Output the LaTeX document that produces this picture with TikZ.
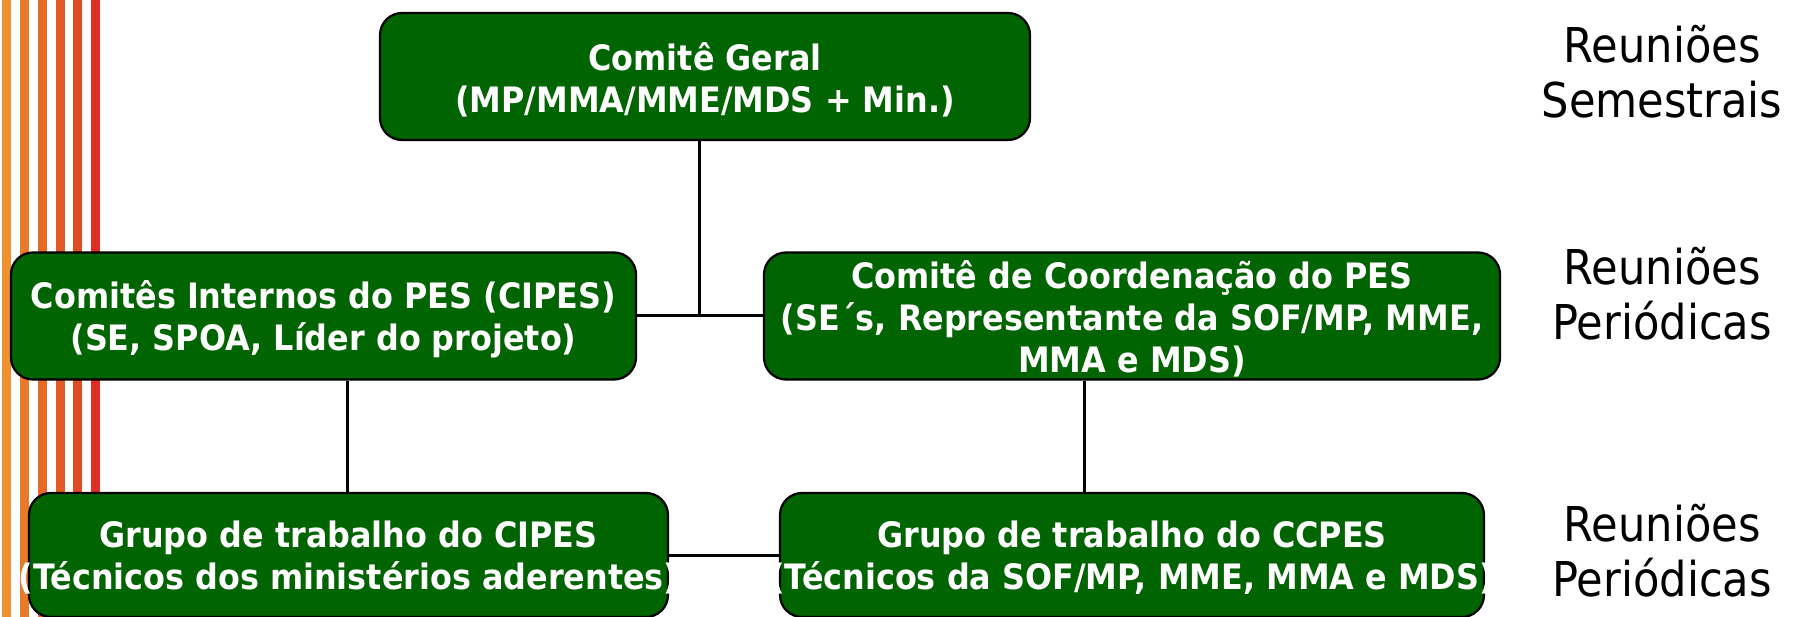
\documentclass[tikz,border=0pt]{standalone}
\usepackage{fontspec}
\setmainfont{DejaVu Sans}
\newfontfamily\boxfont{DejaVu Sans}[FakeStretch=0.91]
\newfontfamily\labelfont{DejaVu Sans}[FakeStretch=0.9]
\definecolor{boxgreen}{RGB}{0,100,0}
\definecolor{sA}{RGB}{236,145,45}
\definecolor{sB}{RGB}{232,122,42}
\definecolor{sC}{RGB}{229,106,40}
\definecolor{sD}{RGB}{226,90,38}
\definecolor{sE}{RGB}{224,75,37}
\definecolor{sF}{RGB}{220,48,38}
\newcommand{\oneline}[1]{\makebox[0pt][c]{#1}}
\begin{document}
\begin{tikzpicture}[x=1pt,y=-1pt,
  box/.style={draw=black, line width=2.2pt, fill=boxgreen, rounded corners=22pt,
    inner sep=0pt},
  boxtext/.style={text=white, font=\boxfont\fontsize{35}{42}\selectfont\bfseries,
    align=center, inner sep=0pt, yshift=-3pt},
  conn/.style={draw=black, line width=3pt},
  meeting/.style={font=\labelfont\fontsize{48}{55}\selectfont, align=center, inner sep=0pt}]
\useasboundingbox (0,0) rectangle (1800,617);
\fill[white] (0,0) rectangle (1800,617);
% stripes
\fill[sA] (2,0) rectangle (11,617);
\fill[sB] (20,0) rectangle (29,617);
\fill[sC] (38,0) rectangle (47,617);
\fill[sD] (56,0) rectangle (65,617);
\fill[sE] (73,0) rectangle (82,617);
\fill[sF] (91,0) rectangle (100,617);
% boxes
\node[box, minimum width=650pt, minimum height=127pt] (geral) at (705,76.5) {};
\node[boxtext] (geralT) at (geral.center)
  {\oneline{Comitê Geral}\\\oneline{(MP/MMA/MME/MDS + Min.)}};
\node[box, minimum width=625pt, minimum height=127pt] (cipes) at (323.5,316) {};
\node[boxtext] (cipesT) at (cipes.center)
  {\oneline{Comitês Internos do PES (CIPES)}\\\oneline{(SE, SPOA, Líder do projeto)}};
\node[box, minimum width=736pt, minimum height=127pt] (coord) at (1132,316) {};
\node[boxtext] (coordT) at (coord.center)
  {\oneline{Comitê de Coordenação do PES}\\\oneline{(SE´s, Representante da SOF/MP, MME,}\\\oneline{MMA e MDS)}};
\node[box, minimum width=639pt, minimum height=124pt] (gtcipes) at (348.5,555) {};
\node[boxtext] (gtcipesT) at (gtcipes.center)
  {\oneline{Grupo de trabalho do CIPES}\\\oneline{(Técnicos dos ministérios aderentes)}};
\node[box, minimum width=704pt, minimum height=124pt] (gtccpes) at (1132,555) {};
\node[boxtext] (gtccpesT) at (gtccpes.center)
  {\oneline{Grupo de trabalho do CCPES}\\\oneline{(Técnicos da SOF/MP, MME, MMA e MDS)}};
% connectors
\coordinate (j1) at (699,316);
\draw[conn] (cipes.east) -- (coord.west);
\draw[conn] (geral.south -| j1) -- (j1);
\draw[conn] (cipes.south -| 347,0) -- (gtcipes.north -| 347,0);
\draw[conn] (coord.south -| 1084,0) -- (gtccpes.north -| 1084,0);
\draw[conn] (gtcipes.east) -- (gtccpes.west);
% meeting labels
\node[meeting] (m1) at (1662,72) {Reuniões\\Semestrais};
\node[meeting] (m2) at (1662,294) {Reuniões\\Periódicas};
\node[meeting] (m3) at (1662,551) {Reuniões\\Periódicas};
\end{tikzpicture}
\end{document}
